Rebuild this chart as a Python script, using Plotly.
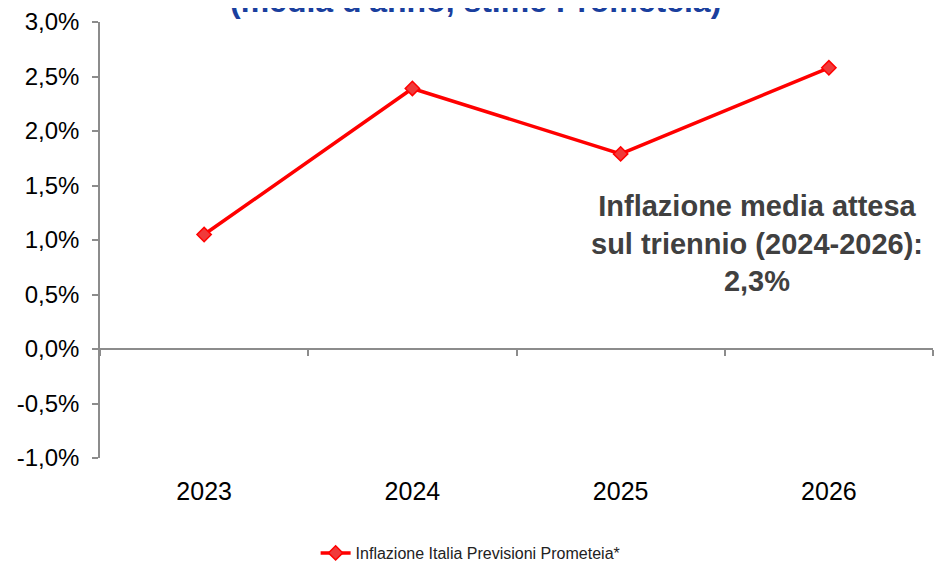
import plotly.graph_objects as go

# dati
anni = ["2023", "2024", "2025", "2026"]
inflazione = [1.05, 2.39, 1.79, 2.58]
y_ticks = [-1.0, -0.5, 0.0, 0.5, 1.0, 1.5, 2.0, 2.5, 3.0]
y_labels = [f"{v:.1f}%".replace(".", ",") for v in y_ticks]
media_triennio = "2,3%"

AXIS_GREY = "#8c8c8c"
pos = list(range(len(anni)))

fig = go.Figure()

fig.add_trace(
    go.Scatter(
        x=pos,
        y=inflazione,
        mode="lines+markers",
        name="Inflazione Italia Previsioni Prometeia*",
        line=dict(color="#ff0000", width=3.5),
        marker=dict(symbol="diamond", size=11, color="#f03a3a",
                    line=dict(color="#ff0000", width=1.5)),
    )
)

# asse x disegnato sullo zero (solo linea e tacche)
fig.add_trace(
    go.Scatter(x=[-0.5, 3.5], y=[None, None], xaxis="x2", yaxis="y",
               mode="lines", showlegend=False, hoverinfo="skip")
)

# la pagina ha un margine di 8px: margini compensati
fig.update_layout(
    width=948,
    height=564,
    paper_bgcolor="white",
    plot_bgcolor="white",
    font=dict(family="Arial, Liberation Sans, sans-serif", color="#000000"),
    margin=dict(l=92, r=23, t=14, b=114),
    xaxis=dict(
        range=[-0.5, 3.5],
        tickvals=pos,
        ticktext=anni,
        showline=False,
        showgrid=False,
        zeroline=False,
        ticks="",
        automargin=False,
        ticklabelstandoff=16,
        tickfont=dict(size=25, color="#000000"),
    ),
    xaxis2=dict(
        overlaying="x",
        anchor="free",
        position=0.25,
        range=[-0.5, 3.5],
        tickvals=[-0.5, 0.5, 1.5, 2.5, 3.5],
        showticklabels=False,
        showline=True,
        linecolor=AXIS_GREY,
        linewidth=1.5,
        ticks="outside",
        ticklen=6,
        tickwidth=1.5,
        tickcolor=AXIS_GREY,
        showgrid=False,
        zeroline=False,
    ),
    yaxis=dict(
        range=[-1.0, 3.0],
        tickvals=y_ticks,
        ticktext=y_labels,
        showline=True,
        linecolor=AXIS_GREY,
        linewidth=1.5,
        ticks="outside",
        ticklen=6,
        tickwidth=1.5,
        tickcolor=AXIS_GREY,
        showgrid=False,
        zeroline=False,
        automargin=False,
        ticklabelstandoff=8,
        tickfont=dict(size=24, color="#000000"),
    ),
    legend=dict(
        orientation="h",
        xref="container", yref="container",
        x=0.488, xanchor="center",
        y=1 - 545 / 564, yanchor="middle",
        font=dict(size=16, color="#222222"),
        bgcolor="rgba(0,0,0,0)",
    ),
    showlegend=True,
)

# titolo tagliato in alto come nell'originale
fig.add_annotation(
    text="<b>(media d'anno, stime Prometeia)</b>",
    xref="paper", yref="paper",
    x=(475 - 100) / 833, y=(458 - 21) / 436,
    xanchor="center", yanchor="bottom",
    showarrow=False,
    font=dict(size=32, color="#1a3f9e"),
)

fig.add_annotation(
    text="<b>Inflazione media attesa<br>sul triennio (2024-2026):<br>" + media_triennio + "</b>",
    xref="paper", yref="paper",
    x=(757 - 100) / 833, y=(458 - 243) / 436,
    xanchor="center", yanchor="middle",
    showarrow=False,
    align="center",
    font=dict(size=29, color="#404040"),
)

fig.write_html("out.html")
